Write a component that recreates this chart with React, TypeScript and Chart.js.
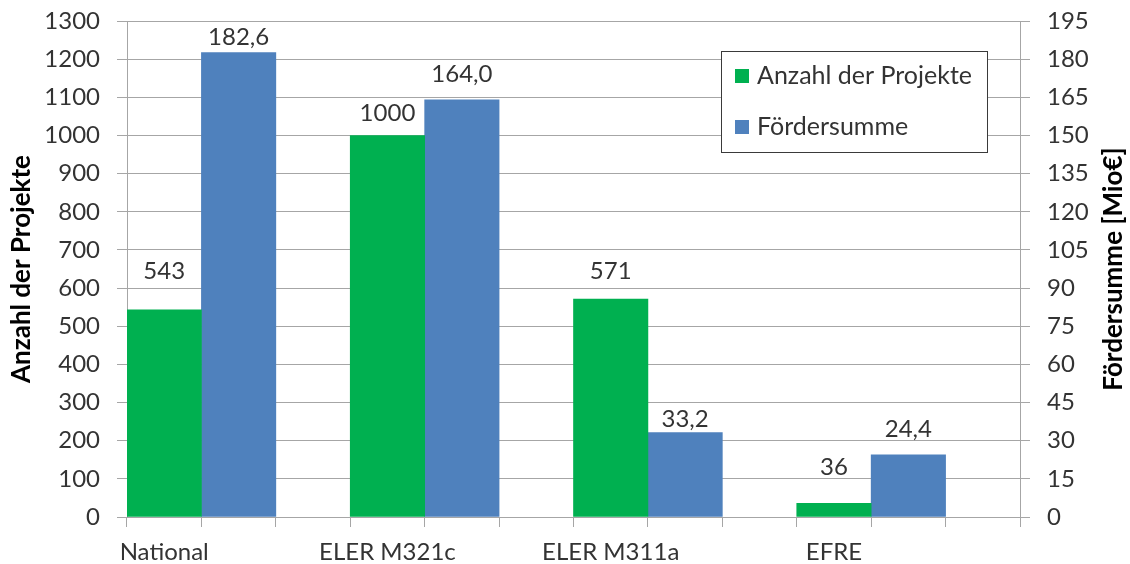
import React, { useEffect, useRef } from "react";
import { Chart, registerables } from "chart.js";

Chart.register(...registerables);

// ---- data ----
const categories = ["National", "ELER M321c", "ELER M311a", "EFRE"];
const projectCounts = [543, 1000, 571, 36];
const fundingMio = [182.6, 164.0, 33.2, 24.4];
const countSeriesName = "Anzahl der Projekte";
const fundingSeriesName = "Fördersumme";
const leftAxisTitle = "Anzahl der Projekte";
const rightAxisTitle = "Fördersumme [Mio€]";
const leftMax = 1300;
const leftStep = 100;
const rightMax = 195;
const rightStep = 15;

// ---- label styling (pixel lift above the bar top, per category) ----
const countLabelLift = [39, 22, 28, 36];
const fundingLabelLift = [15, 26, 13, 26];

const GREEN = "#00B050";
const BLUE = "#4F81BD";
const GRID = "#a6a6a6";
const TEXT = "#333333";
const FONT = "Lato, 'Open Sans', sans-serif";

// each category uses three slots: count bar, funding bar, gap
const slotLabels = categories.flatMap((c) => [c, "", ""]);
const countSlots = projectCounts.flatMap((v) => [v, null, null]);
const fundingSlots = fundingMio.flatMap((v) => [null, v, null]);

const fmtFunding = (v: number) => v.toFixed(1).replace(".", ",");

const labelPlugin = {
  id: "valueLabels",
  afterDatasetsDraw(chart: any) {
    const ctx = chart.ctx;
    ctx.save();
    ctx.font = `24px ${FONT}`;
    ctx.fillStyle = TEXT;
    ctx.textAlign = "center";
    ctx.textBaseline = "middle";
    [0, 1].forEach((d) => {
      const meta = chart.getDatasetMeta(d);
      const data = chart.data.datasets[d].data;
      meta.data.forEach((el: any, i: number) => {
        const v = data[i];
        if (v === null || v === undefined) return;
        const cat = Math.floor(i / 3);
        const lift = d === 0 ? countLabelLift[cat] : fundingLabelLift[cat];
        const txt = d === 0 ? String(v) : fmtFunding(v);
        ctx.fillText(txt, el.x, el.y - lift);
      });
    });
    ctx.restore();
  },
};

const decorPlugin = {
  id: "decor",
  afterDraw(chart: any) {
    const ctx = chart.ctx;
    const area = chart.chartArea;
    const cy = (area.top + area.bottom) / 2;
    ctx.save();
    // axis titles
    ctx.font = `bold 26px ${FONT}`;
    ctx.fillStyle = "#000";
    ctx.textAlign = "center";
    ctx.textBaseline = "middle";
    ctx.save();
    ctx.translate(22, cy);
    ctx.rotate(-Math.PI / 2);
    ctx.fillText(leftAxisTitle, 0, 0);
    ctx.restore();
    ctx.save();
    ctx.translate(1114, cy);
    ctx.rotate(-Math.PI / 2);
    ctx.fillText(rightAxisTitle, 0, 0);
    ctx.restore();

    // legend box
    const bx = 721.5, by = 51.5, bw = 266, bh = 101;
    ctx.fillStyle = "#fff";
    ctx.fillRect(bx, by, bw, bh);
    ctx.strokeStyle = "#3a3a3a";
    ctx.lineWidth = 1;
    ctx.strokeRect(bx, by, bw, bh);
    const ds = chart.data.datasets;
    const rows = [76, 127];
    [0, 1].forEach((d, k) => {
      ctx.fillStyle = ds[d].backgroundColor;
      ctx.fillRect(735, rows[k] - 7, 14, 14);
      ctx.fillStyle = TEXT;
      ctx.font = `25px ${FONT}`;
      ctx.textAlign = "left";
      ctx.textBaseline = "middle";
      ctx.fillText(ds[d].label, 757, rows[k]);
    });
    ctx.restore();
  },
};

export default function App() {
  const ref = useRef<HTMLCanvasElement | null>(null);

  useEffect(() => {
    document.body.style.margin = "0";
    if (!ref.current) return;
    const tickFont = { family: FONT, size: 24 };
    const plain = (v: any) => String(v);
    const fitY = (w: number) => (scale: any) => {
      scale.width = w;
      scale.paddingTop = 0;
      scale.paddingBottom = 0;
    };
    const chart = new Chart(ref.current, {
      type: "bar",
      data: {
        labels: slotLabels,
        datasets: [
          {
            label: countSeriesName,
            data: countSlots,
            backgroundColor: GREEN,
            yAxisID: "y",
            grouped: false,
            barPercentage: 1,
            categoryPercentage: 1,
          } as any,
          {
            label: fundingSeriesName,
            data: fundingSlots,
            backgroundColor: BLUE,
            yAxisID: "y1",
            grouped: false,
            barPercentage: 1,
            categoryPercentage: 1,
          } as any,
        ],
      },
      options: {
        responsive: false,
        animation: false,
        layout: { padding: { top: 21, left: 0, right: 0, bottom: 0 } },
        plugins: {
          legend: { display: false },
          tooltip: { enabled: false },
        },
        scales: {
          x: {
            type: "category",
            offset: true,
            grid: {
              offset: true,
              drawOnChartArea: false,
              tickLength: 10,
              color: GRID,
            },
            border: { color: GRID },
            ticks: {
              autoSkip: false,
              maxRotation: 0,
              minRotation: 0,
              font: tickFont,
              color: TEXT,
              padding: 11,
            },
            afterFit(scale: any) {
              scale.height = 47;
            },
          },
          y: {
            position: "left",
            min: 0,
            max: leftMax,
            ticks: { stepSize: leftStep, font: tickFont, color: TEXT, padding: 17, callback: plain },
            grid: { color: GRID, tickLength: 10 },
            border: { color: GRID },
            afterFit: fitY(127),
          },
          y1: {
            position: "right",
            min: 0,
            max: rightMax,
            ticks: { stepSize: rightStep, font: tickFont, color: TEXT, padding: 17, callback: plain },
            grid: { drawOnChartArea: false, color: GRID, tickLength: 10 },
            border: { color: GRID },
            afterFit: fitY(110),
          },
        },
      } as any,
      plugins: [labelPlugin, decorPlugin],
    });
    return () => chart.destroy();
  }, []);

  return (
    <div style={{ width: 1130, height: 564, background: "#fff" }}>
      <canvas ref={ref} width={1130} height={564} />
    </div>
  );
}
